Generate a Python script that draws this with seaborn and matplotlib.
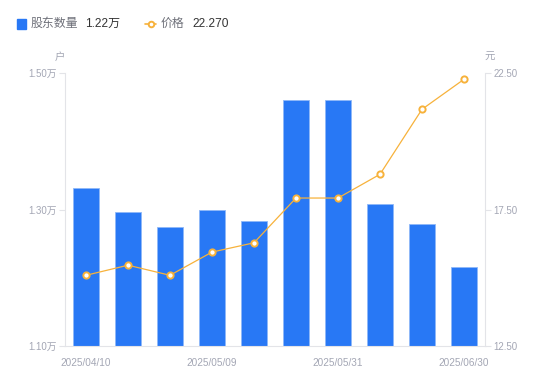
import numpy as np
import matplotlib
matplotlib.use("Agg")
import matplotlib.pyplot as plt
from matplotlib.lines import Line2D
from matplotlib.patches import Rectangle
import seaborn as sns

# data
dates = ["2025/04/10", "2025/04/18", "2025/04/30", "2025/05/09", "2025/05/20",
         "2025/05/26", "2025/05/31", "2025/06/10", "2025/06/20", "2025/06/30"]
holders = [1.332, 1.296, 1.274, 1.299, 1.283, 1.460, 1.460, 1.308, 1.279, 1.216]  # 万户
price = [15.09, 15.46, 15.09, 15.94, 16.28, 17.92, 17.92, 18.79, 21.17, 22.27]     # 元
shown_dates = ["2025/04/10", "2025/05/09", "2025/05/31", "2025/06/30"]

bar_color = "#2878f5"
line_color = "#f7b23b"
tick_color = "#a3a6b4"
axis_color = "#e3e4e8"

sns.set_theme(style="white")
plt.rcParams["font.family"] = ["Liberation Sans", "Noto Sans CJK SC", "DejaVu Sans"]

fig = plt.figure(figsize=(5.5, 3.81), dpi=100)
ax = fig.add_axes([65 / 550, 1 - 346 / 381, 420 / 550, 273 / 381])

sns.barplot(x=dates, y=holders, color=bar_color, width=0.6, ax=ax,
            edgecolor="#8fb8f8", linewidth=0.6, saturation=1)
ax.set_ylim(1.10, 1.50)
ax.set_xlim(-0.5, len(dates) - 0.5)
ax.set_yticks([1.10, 1.30, 1.50])
ax.set_yticklabels([f"{v:.2f}万" for v in [1.10, 1.30, 1.50]])
ax.set_xticks([dates.index(d) for d in shown_dates])
ax.set_xticklabels(shown_dates)
ax.set_xlabel("")
ax.set_ylabel("")

ax2 = ax.twinx()
xpos = np.arange(len(dates))
sns.lineplot(x=xpos, y=price, ax=ax2, color=line_color, linewidth=0.9,
             marker="o", markersize=4.5, markerfacecolor="white",
             markeredgecolor=line_color, markeredgewidth=1.4)
ax2.set_ylim(12.5, 22.5)
ax2.set_yticks([12.5, 17.5, 22.5])
ax2.set_yticklabels(["12.50", "17.50", "22.50"])
ax2.set_ylabel("")

for a in (ax, ax2):
    for s in a.spines.values():
        s.set_visible(False)
    a.grid(False)

ax.spines["left"].set_visible(True)
ax.spines["bottom"].set_visible(True)
ax2.spines["right"].set_visible(True)
for s in (ax.spines["left"], ax.spines["bottom"], ax2.spines["right"]):
    s.set_color(axis_color)
    s.set_linewidth(0.8)

ax.tick_params(axis="y", left=True, length=4, width=0.8, color=axis_color,
               labelsize=7, labelcolor=tick_color, pad=2)
ax.tick_params(axis="x", bottom=False, labelsize=7.2, labelcolor=tick_color, pad=3)
ax2.tick_params(axis="y", right=True, length=4, width=0.8, color=axis_color,
                labelsize=7, labelcolor=tick_color, pad=2)

fig.text(60 / 550, 1 - 57 / 381, "户", fontsize=7.5, color=tick_color, ha="center", va="center")
fig.text(490 / 550, 1 - 57 / 381, "元", fontsize=7.5, color=tick_color, ha="center", va="center")

# legend
ly = 1 - 24 / 381
fig.patches.append(Rectangle((17 / 550, 1 - 29 / 381), 9 / 550, 10 / 381,
                             transform=fig.transFigure, color=bar_color, zorder=5))
fig.text(31 / 550, ly, "股东数量", fontsize=8.6, color="#6e7079", va="center")
fig.text(85 / 550, ly, "1.22万", fontsize=8.6, color="#333333", va="center")
fig.add_artist(Line2D([145 / 550, 156 / 550], [ly, ly], transform=fig.transFigure,
                      color=line_color, linewidth=1.2))
fig.add_artist(Line2D([150.5 / 550], [ly], transform=fig.transFigure, marker="o",
                      markersize=4, markerfacecolor="white", markeredgecolor=line_color,
                      markeredgewidth=1.4))
fig.text(161 / 550, ly, "价格", fontsize=8.6, color="#6e7079", va="center")
fig.text(192 / 550, ly, "22.270", fontsize=8.6, color="#333333", va="center")

fig.savefig("out.png", dpi=100)
